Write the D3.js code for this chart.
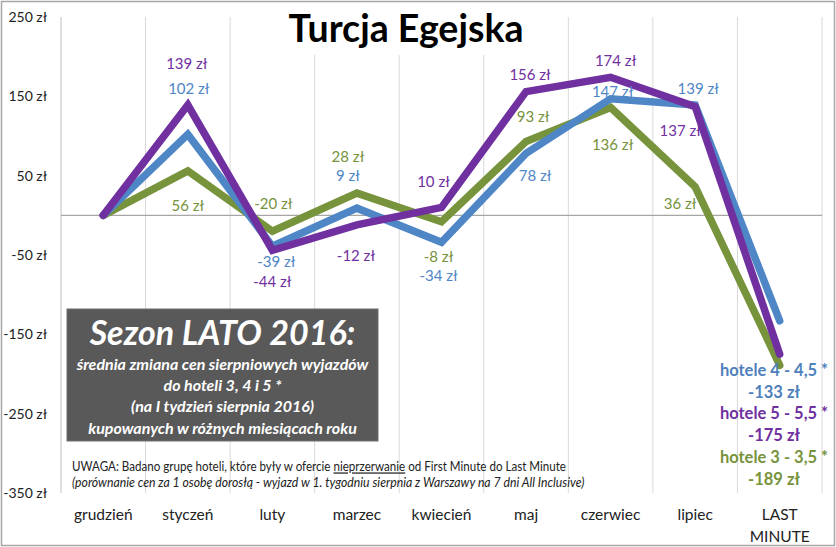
<!DOCTYPE html>
<html>
<head>
<meta charset="utf-8">
<script src="https://cdn.jsdelivr.net/npm/d3@7"></script>
<style>
  body { margin: 0; background: #fff; }
  svg { display: block; font-family: Lato, "Open Sans", sans-serif; }
</style>
</head>
<body>
<svg id="chart" width="836" height="547"></svg>
<script>
// ---- data ----
const categories = ["grudzień", "styczeń", "luty", "marzec", "kwiecień", "maj", "czerwiec", "lipiec", "LAST MINUTE"];
const hotele4 = [0, 102, -39, 9, -34, 78, 147, 139, -133];
const hotele5 = [0, 139, -44, -12, 10, 156, 174, 137, -175];
const hotele3 = [0, 56, -20, 28, -8, 93, 136, 36, -189];
const yTicks = [250, 150, 50, -50, -150, -250, -350];
const seriesNames = ["hotele 3 - 3,5 *", "hotele 4 - 4,5 *", "hotele 5 - 5,5 *"];

// ---- styling / label placement (not data) ----
const colors = { h3: "#77933C", h4: "#4F86C6", h5: "#7030A0" };
// label offsets [dx, dy] relative to point, per category (last one = legend, skipped)
const off4 = [null, [1, -46], [4, 15], [-9, -32], [-3, 33], [9, 22], [2, -7], [3, -16], null];
const off5 = [null, [-1, -41], [0, 32], [-1, 31], [-8, -26], [4, -17], [5, -17], [-15, 24], null];
const off3 = [null, [0, 35], [1, -27], [-9, -36], [-3, 35], [7, -25], [2, 37], [-15, 17], null];

const svg = d3.select("#chart");
const W = 836, H = 547;
const plot = { left: 61, right: 822, top: 17, bottom: 493 };

// outer border
svg.append("rect").attr("x", 1.5).attr("y", 1.5).attr("width", W - 3).attr("height", H - 3)
  .attr("fill", "#fff").attr("stroke", "#a6a6a6").attr("stroke-width", 1.5);

const x = d3.scaleBand().domain(categories).range([plot.left, plot.right]).paddingInner(0).paddingOuter(0);
const y = d3.scaleLinear().domain([-350, 250]).range([plot.bottom, plot.top]);

// vertical gridlines at band boundaries
const bounds = categories.map(c => x(c)).concat([plot.right]);
svg.append("g").selectAll("line").data(bounds).join("line")
  .attr("x1", d => d).attr("x2", d => d)
  .attr("y1", plot.top).attr("y2", plot.bottom)
  .attr("stroke", (d, i) => i === 0 ? "#bfbfbf" : "#d9d9d9").attr("stroke-width", 1);

// zero line
svg.append("line").attr("x1", plot.left).attr("x2", plot.right)
  .attr("y1", y(0)).attr("y2", y(0)).attr("stroke", "#a6a6a6").attr("stroke-width", 1.2);

// y axis labels
const yAxis = d3.axisLeft(y).tickValues(yTicks).tickSize(0).tickPadding(0)
  .tickFormat(d => d + " zł");
const gy = svg.append("g").attr("transform", `translate(${plot.left - 14},0)`).call(yAxis);
gy.select(".domain").remove();
gy.selectAll("text").attr("font-family", "Lato, sans-serif").attr("font-size", 14).attr("fill", "#222");

// x axis labels
const gx = svg.append("g");
categories.forEach(c => {
  const cx = x(c) + x.bandwidth() / 2;
  const parts = c === "LAST MINUTE" ? ["LAST", "MINUTE"] : [c];
  const t = gx.append("text").attr("x", cx).attr("y", 520).attr("text-anchor", "middle")
    .attr("font-size", 15.5).attr("fill", "#222");
  parts.forEach((p, i) => t.append("tspan").attr("x", cx).attr("dy", i === 0 ? 0 : 22).text(p));
});

// title with white background
svg.append("rect").attr("x", 250).attr("y", plot.top).attr("width", 310).attr("height", 38).attr("fill", "#fff");
svg.append("text").attr("x", 406).attr("y", 42).attr("text-anchor", "middle")
  .attr("font-size", 37.5).attr("font-weight", 700).attr("fill", "#000").text("Turcja Egejska");

// lines
const line = d3.line().x((d, i) => x(categories[i]) + x.bandwidth() / 2).y(d => y(d));
const series = [
  { vals: hotele3, color: colors.h3, off: off3 },
  { vals: hotele4, color: colors.h4, off: off4 },
  { vals: hotele5, color: colors.h5, off: off5 }
];
series.forEach(s => {
  svg.append("path").datum(s.vals).attr("d", line).attr("fill", "none")
    .attr("stroke", s.color).attr("stroke-width", 7.5)
    .attr("stroke-linejoin", "miter").attr("stroke-linecap", "round");
});

// data labels
series.forEach(s => {
  s.vals.forEach((v, i) => {
    if (!s.off[i]) return;
    const cx = x(categories[i]) + x.bandwidth() / 2;
    svg.append("text").attr("x", cx + s.off[i][0]).attr("y", y(v) + s.off[i][1])
      .attr("dy", "0.35em").attr("text-anchor", "middle")
      .attr("font-size", 15).attr("fill", s.color).text(v + " zł");
  });
});

// legend at LAST MINUTE
const lastIdx = categories.length - 1;
const legendItems = [
  { name: seriesNames[1], val: hotele4[lastIdx], color: "#4F81BD" },
  { name: seriesNames[2], val: hotele5[lastIdx], color: colors.h5 },
  { name: seriesNames[0], val: hotele3[lastIdx], color: colors.h3 }
];
legendItems.forEach((it, i) => {
  const ly = 370 + i * 43.5;
  svg.append("text").attr("x", 774).attr("y", ly).attr("dy", "0.35em").attr("text-anchor", "middle")
    .attr("font-size", 16.5).attr("font-weight", 700).attr("fill", it.color).text(it.name);
  svg.append("text").attr("x", 774).attr("y", ly + 22).attr("dy", "0.35em").attr("text-anchor", "middle")
    .attr("font-size", 16.5).attr("font-weight", 700).attr("fill", it.color).text(it.val + " zł");
});

// dark info box
svg.append("rect").attr("x", 67).attr("y", 309).attr("width", 311).attr("height", 132)
  .attr("fill", "#595959").attr("stroke", "#6f6f6f").attr("stroke-width", 1);
svg.append("text").attr("x", 222.5).attr("y", 345).attr("text-anchor", "middle")
  .attr("font-size", 34).attr("font-weight", 700).attr("font-style", "italic").attr("fill", "#fff")
  .text("Sezon LATO 2016:");
const boxLines = ["średnia zmiana cen sierpniowych wyjazdów", "do hoteli 3, 4 i 5 *", "(na I tydzień sierpnia 2016)", "kupowanych w różnych miesiącach roku"];
boxLines.forEach((l, i) => {
  svg.append("text").attr("x", 222.5).attr("y", 364 + i * 21.3).attr("dy", "0.35em").attr("text-anchor", "middle")
    .attr("font-size", 16).attr("font-weight", 700).attr("font-style", "italic").attr("fill", "#fff").text(l);
});

// footnote (horizontally condensed to mimic the narrow original face)
function fitLine(g, targetW) {
  const w = g.node().getBBox().width;
  return w > 0 ? targetW / w : 1;
}
const g1 = svg.append("g");
const fn1 = g1.append("text").attr("x", 0).attr("y", 0).attr("dy", "0.35em")
  .attr("font-size", 12.5).attr("fill", "#222");
fn1.append("tspan").text("UWAGA: Badano grupę hoteli, które były w ofercie  ");
fn1.append("tspan").attr("text-decoration", "underline").text("nieprzerwanie");
fn1.append("tspan").text(" od First Minute do Last Minute");
g1.attr("transform", `translate(72,467) scale(${fitLine(g1, 495)},1)`);
const g2 = svg.append("g");
g2.append("text").attr("x", 0).attr("y", 0).attr("dy", "0.35em")
  .attr("font-size", 12.5).attr("font-style", "italic").attr("fill", "#222")
  .text("(porównanie cen za 1 osobę dorosłą - wyjazd w 1. tygodniu sierpnia z Warszawy na 7 dni All Inclusive)");
g2.attr("transform", `translate(72,483) scale(${fitLine(g2, 513)},1)`);
</script>
</body>
</html>
